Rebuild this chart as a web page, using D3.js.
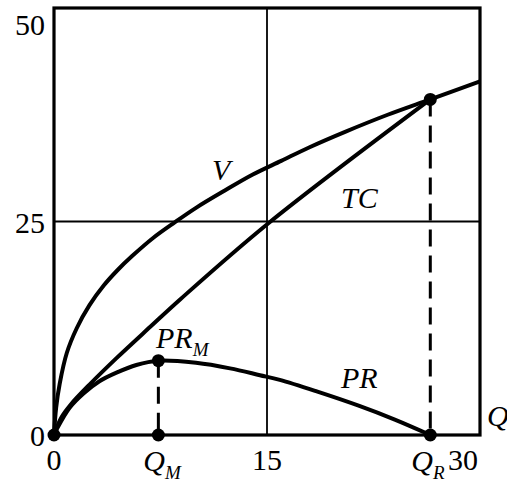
<!DOCTYPE html>
<html>
<head>
<meta charset="utf-8">
<script src="https://cdn.jsdelivr.net/npm/d3@7"></script>
<style>
  body { margin: 0; background: #fff; }
  svg { display: block; }
  svg text { font-family: "Liberation Serif", "Times New Roman", "DejaVu Serif", serif; }
</style>
</head>
<body>
<svg id="chart" width="507" height="484"></svg>
<script>
// values
const qV  = [0, 0.15, 0.4, 0.9, 1.6, 2.5, 3.5, 4.5, 5.5, 7, 8.5, 10, 12, 14, 16, 18, 20.5, 23.5, 26.5, 30];
const vV  = [0, 3.2, 6.0, 9.6, 12.5, 15.2, 17.5, 19.35, 20.95, 23.1, 24.9, 26.6, 28.6, 30.5, 32.1, 33.7, 35.5, 37.5, 39.3, 41.4];

const qTC = [0, 0.5, 1.2, 2.5, 4.4, 6.8, 8.9, 15.1, 26.5];
const tc  = [0, 2.0, 3.6, 5.9, 9.0, 12.7, 15.9, 24.8, 39.3];

const qPR = [0, 0.2, 1.1, 2.1, 3.2, 4.4, 5.8, 7.35, 10, 12.4, 14.5, 15.9, 18.5, 21.5, 24, 26.5];
const pr  = [0, 0.7, 3.2, 4.9, 6.3, 7.3, 8.2, 8.7, 8.45, 7.8, 7.0, 6.45, 5.1, 3.4, 1.8, 0];

const QM = 7.35, PRM = 8.7;
const QR = 26.5, VR = 39.3;

const yTicks = [50, 25, 0];

const svg = d3.select("#chart");

const x = d3.scaleLinear().domain([0, 30]).range([54, 480]);
const y = d3.scaleLinear().domain([0, 50]).range([435, 8]);

// grid lines at 15 and 25
svg.append("line")
  .attr("x1", x(15)).attr("x2", x(15))
  .attr("y1", y(0)).attr("y2", y(50))
  .attr("stroke", "#000").attr("stroke-width", 1.8);
svg.append("line")
  .attr("x1", x(0)).attr("x2", x(30))
  .attr("y1", y(25)).attr("y2", y(25))
  .attr("stroke", "#000").attr("stroke-width", 1.8);

// frame
svg.append("rect")
  .attr("x", x(0)).attr("y", y(50))
  .attr("width", x(30) - x(0)).attr("height", y(0) - y(50))
  .attr("fill", "none")
  .attr("stroke", "#000").attr("stroke-width", 3.2);

// dashed drop lines
[[QM, PRM], [QR, VR]].forEach(function(p) {
  svg.append("line")
    .attr("x1", x(p[0])).attr("x2", x(p[0]))
    .attr("y1", y(p[1])).attr("y2", y(0))
    .attr("stroke", "#000").attr("stroke-width", 3)
    .attr("stroke-dasharray", "17,9");
});

const line = d3.line()
  .x(d => x(d[0]))
  .y(d => y(d[1]))
  .curve(d3.curveCatmullRom.alpha(0.5));

function draw(qs, vs) {
  svg.append("path")
    .datum(qs.map((q, i) => [q, vs[i]]))
    .attr("fill", "none")
    .attr("stroke", "#000")
    .attr("stroke-width", 4)
    .attr("stroke-linejoin", "round")
    .attr("d", line);
}
draw(qV, vV);
draw(qTC, tc);
draw(qPR, pr);

// dots
const dots = [[0, 0], [QM, 0], [QM, PRM], [QR, 0], [QR, VR]];
svg.selectAll("circle.dot")
  .data(dots)
  .enter()
  .append("circle")
  .attr("cx", d => x(d[0]))
  .attr("cy", d => y(d[1]))
  .attr("r", 6.5)
  .attr("fill", "#000");

// y tick labels
svg.selectAll("text.ytick")
  .data(yTicks)
  .enter()
  .append("text")
  .attr("x", 45)
  .attr("y", d => Math.max(y(d) + 11, 35))
  .attr("text-anchor", "end")
  .attr("font-size", 30)
  .text(d => d);

function label(tx, ty, main, sub, italic, anchor) {
  const t = svg.append("text")
    .attr("x", tx).attr("y", ty)
    .attr("font-size", 30)
    .attr("text-anchor", anchor || "start")
    .attr("font-style", italic ? "italic" : "normal")
    .text(main);
  if (sub) {
    t.append("tspan")
      .attr("font-size", 19)
      .attr("dy", 8)
      .text(sub);
  }
}

// x tick labels
label(x(0), 470, "0", null, false, "middle");
label(x(15), 470, "15", null, false, "middle");
label(448, 470, "30", null, false, "start");
label(x(QM) - 15, 471, "Q", "M", true);
label(x(QR) - 19, 471, "Q", "R", true);
label(487, 426, "Q", null, true);

// curve labels
label(212, 180, "V", null, true);
label(341, 208, "TC", null, true);
label(341, 388, "PR", null, true);
label(156, 348, "PR", "M", true);
</script>
</body>
</html>
